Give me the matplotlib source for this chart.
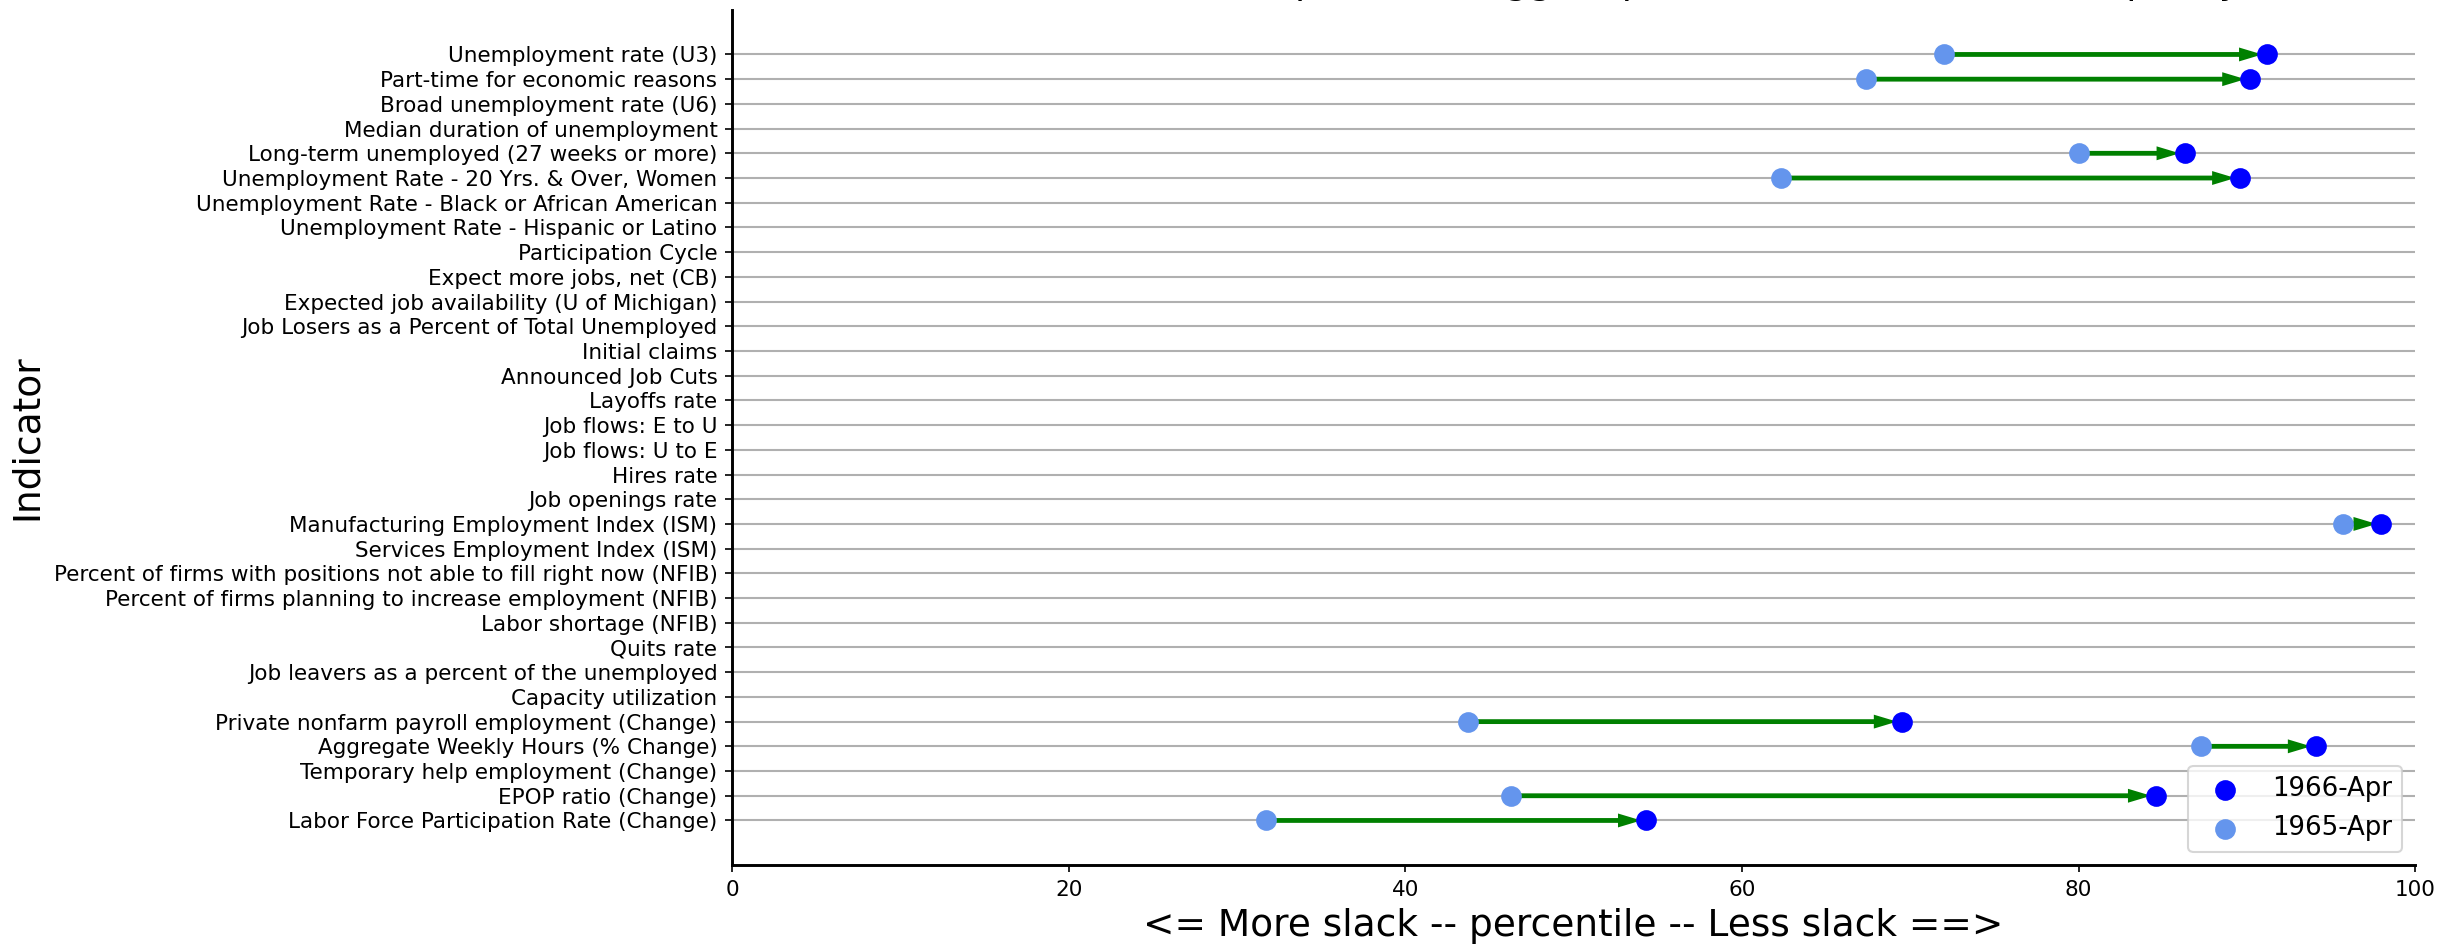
import matplotlib
matplotlib.use('Agg')
import matplotlib.pyplot as plt
import numpy as np

# indicators, top to bottom
indicators = [
    'Unemployment rate (U3)',
    'Part-time for economic reasons',
    'Broad unemployment rate (U6)',
    'Median duration of unemployment',
    'Long-term unemployed (27 weeks or more)',
    'Unemployment Rate - 20 Yrs. & Over, Women',
    'Unemployment Rate - Black or African American',
    'Unemployment Rate - Hispanic or Latino',
    'Participation Cycle',
    'Expect more jobs, net (CB)',
    'Expected job availability (U of Michigan)',
    'Job Losers as a Percent of Total Unemployed',
    'Initial claims',
    'Announced Job Cuts',
    'Layoffs rate',
    'Job flows: E to U',
    'Job flows: U to E',
    'Hires rate',
    'Job openings rate',
    'Manufacturing Employment Index (ISM)',
    'Services Employment Index (ISM)',
    'Percent of firms with positions not able to fill right now (NFIB)',
    'Percent of firms planning to increase employment (NFIB)',
    'Labor shortage (NFIB)',
    'Quits rate',
    'Job leavers as a percent of the unemployed',
    'Capacity utilization',
    'Private nonfarm payroll employment (Change)',
    'Aggregate Weekly Hours (% Change)',
    'Temporary help employment (Change)',
    'EPOP ratio (Change)',
    'Labor Force Participation Rate (Change)',
]

nan = np.nan
# percentiles, same order as indicators
pct_1965 = [72.0, 67.4, nan, nan, 80.0, 62.3, nan, nan, nan, nan, nan, nan,
            nan, nan, nan, nan, nan, nan, nan, 95.7, nan, nan, nan, nan,
            nan, nan, nan, 43.7, 87.3, nan, 46.3, 31.7]
pct_1966 = [91.2, 90.2, nan, nan, 86.3, 89.6, nan, nan, nan, nan, nan, nan,
            nan, nan, nan, nan, nan, nan, nan, 98.0, nan, nan, nan, nan,
            nan, nan, nan, 69.5, 94.1, nan, 84.6, 54.3]

label_now = '1966-Apr'
label_then = '1965-Apr'
title = 'Labor market slack components: biggest percentile moves over the past year'

fig, ax = plt.subplots(figsize=(2441/150, 951/150), dpi=150)
fig.subplots_adjust(left=0.2999, right=0.9894, top=0.9895, bottom=0.0905)

ypos = np.arange(len(indicators))
x0 = np.array(pct_1965)
x1 = np.array(pct_1966)

# arrows from last year to now
for y, a, b in zip(ypos, x0, x1):
    if np.isnan(a) or np.isnan(b):
        continue
    ax.arrow(a, y, b - a - 0.5, 0, width=0.11, head_width=0.45, head_length=1.1,
             length_includes_head=True, color='green', zorder=2)

ax.scatter(x1, ypos, s=80, color='blue', label=label_now, zorder=3)
ax.scatter(x0, ypos, s=80, color='cornflowerblue', label=label_then, zorder=3)

ax.set_yticks(ypos)
ax.set_yticklabels(indicators, fontsize=10.3)
ax.set_ylim(len(indicators) - 1 + 1.8, -1.8)
ax.set_xlim(0, 100)
ax.tick_params(axis='x', labelsize=10.3)
ax.grid(axis='y', color='#b0b0b0', lw=1.0)
ax.set_axisbelow(True)

ax.spines['top'].set_visible(False)
ax.spines['right'].set_visible(False)
ax.spines['left'].set_linewidth(1.4)
ax.spines['bottom'].set_linewidth(1.4)

ax.set_xlabel('<= More slack -- percentile -- Less slack ==>', fontsize=18)
ax.set_ylabel('Indicator', fontsize=18)
ax.set_title(title, fontsize=18, pad=8)
ax.legend(loc='lower right', fontsize=12.5)

fig.savefig('out.png', dpi=150)
